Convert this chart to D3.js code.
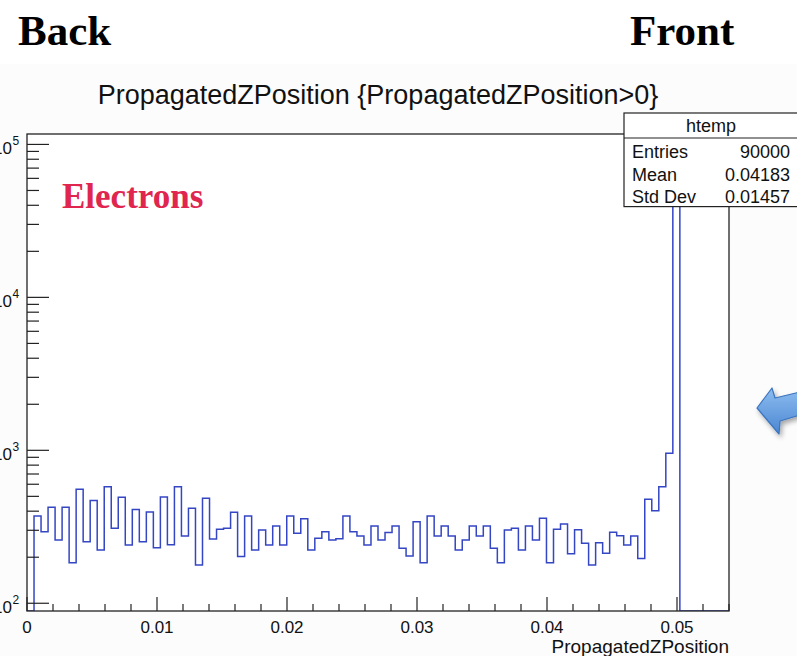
<!DOCTYPE html>
<html>
<head>
<meta charset="utf-8">
<script src="https://cdn.jsdelivr.net/npm/d3@7"></script>
<style>
  html, body { margin: 0; padding: 0; background: #fff; overflow: hidden; }
  svg { display: block; }
</style>
</head>
<body>
<svg id="chart" width="797" height="656"></svg>
<script>
// Histogram of PropagatedZPosition: 100 equal bins spanning the x range
const xRange = [0, 0.054];
const counts = [
  0, 372, 294, 424, 259, 424, 184, 556, 252, 469,
  223, 578, 309, 493, 240, 411, 252, 395, 231, 495,
  241, 578, 275, 418, 178, 486, 263, 305, 309, 393,
  202, 372, 223, 301, 240, 320, 240, 372, 287, 357,
  223, 266, 294, 259, 264, 372, 294, 275, 240, 320,
  259, 290, 320, 229, 204, 341, 184, 372, 275, 320,
  275, 223, 259, 320, 275, 320, 229, 184, 301, 309,
  223, 320, 259, 359, 184, 305, 330, 211, 303, 247,
  178, 249, 212, 291, 276, 240, 275, 196, 478, 402,
  578, 956, 62000, 0, 0, 0, 0, 0, 0, 0
];
const yRange = [89, 117000];

const xMajorTicks = [0, 0.01, 0.02, 0.03, 0.04, 0.05];
const xTickLabels = ["0", "0.01", "0.02", "0.03", "0.04", "0.05"];
const yDecades = [2, 3, 4, 5];

const titleText = "PropagatedZPosition {PropagatedZPosition>0}";
const xAxisTitle = "PropagatedZPosition";
const statTitle = "htemp";
const statNames = ["Entries", "Mean", "Std Dev"];
const statValues = ["90000", "0.04183", "0.01457"];

const frame = { left: 27, right: 729, top: 134, bottom: 611 };
const sans = "'Liberation Sans', Arial, Helvetica, sans-serif";
const serif = "'Liberation Serif', 'Times New Roman', serif";

const svg = d3.select("#chart");

// faint canvas tone below the heading strip
svg.append("rect").attr("x", 0).attr("y", 64).attr("width", 797).attr("height", 592)
  .attr("fill", "#fcfcfc");

const x = d3.scaleLinear().domain(xRange).range([frame.left, frame.right]);
const y = d3.scaleLog().domain(yRange).range([frame.bottom, frame.top]);

// plot frame background
svg.append("rect")
  .attr("x", frame.left).attr("y", frame.top)
  .attr("width", frame.right - frame.left).attr("height", frame.bottom - frame.top)
  .attr("fill", "#fff");

svg.append("defs").append("clipPath").attr("id", "plotClip")
  .append("rect")
  .attr("x", frame.left).attr("y", frame.top)
  .attr("width", frame.right - frame.left).attr("height", frame.bottom - frame.top);

// step outline of the histogram
const nBins = counts.length;
const binW = (xRange[1] - xRange[0]) / nBins;
const pts = [];
counts.forEach((c, i) => {
  const v = Math.max(c, yRange[0]);
  pts.push([xRange[0] + i * binW, v]);
  pts.push([xRange[0] + (i + 1) * binW, v]);
});
const line = d3.line().x(d => x(d[0])).y(d => y(d[1]));
svg.append("path")
  .attr("clip-path", "url(#plotClip)")
  .attr("d", line(pts))
  .attr("fill", "none")
  .attr("stroke", "#3446c4")
  .attr("stroke-width", 1.5);

// X axis ticks (inside the frame) and labels
const xMinor = d3.range(0, 28).map(i => i * 0.002);
const axisG = svg.append("g").attr("stroke", "#222").attr("stroke-width", 1.2);
xMinor.forEach(v => {
  const isMajor = Math.abs(v / 0.01 - Math.round(v / 0.01)) < 1e-6;
  const len = isMajor ? 14 : 7;
  axisG.append("line")
    .attr("x1", x(v)).attr("x2", x(v))
    .attr("y1", frame.bottom).attr("y2", frame.bottom - len);
});
svg.append("g").selectAll("text").data(xMajorTicks).join("text")
  .attr("x", d => x(d)).attr("y", 633)
  .attr("text-anchor", "middle")
  .attr("font-family", sans).attr("font-size", 17).attr("fill", "#111")
  .text((d, i) => xTickLabels[i]);

// Y axis ticks: decades long, 2..9 sub-decades short
yDecades.forEach(e => {
  for (let m = 1; m <= 9; m++) {
    const v = m * Math.pow(10, e);
    if (v < 100 || v > yRange[1]) continue;
    const len = m === 1 ? 22 : 12;
    axisG.append("line")
      .attr("x1", frame.left).attr("x2", frame.left + len)
      .attr("y1", y(v)).attr("y2", y(v));
  }
});
const yLab = svg.append("g").attr("font-family", sans).attr("fill", "#111");
yDecades.forEach(e => {
  const yy = y(Math.pow(10, e));
  yLab.append("text").attr("x", 12).attr("y", yy + 10)
    .attr("text-anchor", "end").attr("font-size", 17).text("10");
  yLab.append("text").attr("x", 12.5).attr("y", yy + 1)
    .attr("text-anchor", "start").attr("font-size", 12).text(String(e));
});

// frame outline
svg.append("rect")
  .attr("x", frame.left).attr("y", frame.top)
  .attr("width", frame.right - frame.left).attr("height", frame.bottom - frame.top)
  .attr("fill", "none").attr("stroke", "#222").attr("stroke-width", 1.3);

// x axis title
svg.append("text")
  .attr("x", frame.right).attr("y", 653)
  .attr("text-anchor", "end")
  .attr("font-family", sans).attr("font-size", 19).attr("fill", "#111")
  .text(xAxisTitle);

// histogram title
svg.append("text")
  .attr("x", 378).attr("y", 104)
  .attr("text-anchor", "middle")
  .attr("font-family", sans).attr("font-size", 27).attr("fill", "#111")
  .text(titleText);

// statistics box
const sb = { x: 624, y: 113, w: 180, head: 25, rowH: 22.7 };
const statG = svg.append("g");
statG.append("rect")
  .attr("x", sb.x).attr("y", sb.y)
  .attr("width", sb.w).attr("height", sb.head + sb.rowH * statNames.length + 0.5)
  .attr("fill", "#fff").attr("stroke", "#222").attr("stroke-width", 1.2);
statG.append("line")
  .attr("x1", sb.x).attr("x2", sb.x + sb.w)
  .attr("y1", sb.y + sb.head).attr("y2", sb.y + sb.head)
  .attr("stroke", "#222").attr("stroke-width", 1.2);
statG.append("text")
  .attr("x", 711).attr("y", sb.y + 19)
  .attr("text-anchor", "middle")
  .attr("font-family", sans).attr("font-size", 18).attr("fill", "#111")
  .text(statTitle);
statNames.forEach((nm, i) => {
  const by = sb.y + sb.head + 20 + i * sb.rowH;
  statG.append("text").attr("x", 632).attr("y", by)
    .attr("font-family", sans).attr("font-size", 18).attr("fill", "#111").text(nm);
  statG.append("text").attr("x", 790).attr("y", by)
    .attr("text-anchor", "end")
    .attr("font-family", sans).attr("font-size", 18).attr("fill", "#111").text(statValues[i]);
});

// heading words
svg.append("text").attr("x", 18).attr("y", 45)
  .attr("font-family", serif).attr("font-weight", "bold").attr("font-size", 43)
  .attr("fill", "#000").text("Back");
svg.append("text").attr("x", 630).attr("y", 45)
  .attr("font-family", serif).attr("font-weight", "bold").attr("font-size", 43)
  .attr("fill", "#000").text("Front");
svg.append("text").attr("x", 62).attr("y", 208)
  .attr("font-family", serif).attr("font-weight", "bold").attr("font-size", 35)
  .attr("fill", "#e0264f").text("Electrons");

// pointer arrow at the right edge
const defs = svg.select("defs");
const grad = defs.append("linearGradient").attr("id", "arrowFill")
  .attr("x1", 0).attr("y1", 0).attr("x2", 0).attr("y2", 1);
grad.append("stop").attr("offset", "0%").attr("stop-color", "#8dbdf0");
grad.append("stop").attr("offset", "100%").attr("stop-color", "#4b86d2");
const shadow = defs.append("filter").attr("id", "arrowShadow")
  .attr("x", "-30%").attr("y", "-30%").attr("width", "160%").attr("height", "160%");
shadow.append("feDropShadow").attr("dx", 2).attr("dy", 3).attr("stdDeviation", 2.5)
  .attr("flood-color", "#000").attr("flood-opacity", 0.35);
const arrowPts = [[757, 408], [772, 388], [775, 398], [800, 392], [800, 415], [780, 421], [779, 434]];
svg.append("path")
  .attr("d", d3.line()(arrowPts) + "Z")
  .attr("fill", "url(#arrowFill)")
  .attr("stroke", "#3a74bf").attr("stroke-width", 1.2)
  .attr("stroke-linejoin", "round")
  .attr("filter", "url(#arrowShadow)");
</script>
</body>
</html>
